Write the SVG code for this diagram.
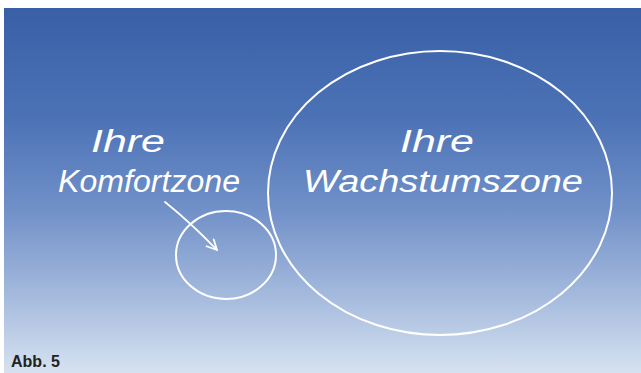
<svg xmlns="http://www.w3.org/2000/svg" width="641" height="373" viewBox="0 0 641 373">
<defs>
<linearGradient id="sky" x1="0" y1="8" x2="0" y2="373" gradientUnits="userSpaceOnUse">
<stop offset="0" stop-color="#3960a7"/>
<stop offset="0.3" stop-color="#4c72b6"/>
<stop offset="0.55" stop-color="#7090c8"/>
<stop offset="0.8" stop-color="#a7bcde"/>
<stop offset="1" stop-color="#d6e2f0"/>
</linearGradient>
<marker id="head" viewBox="0 0 12 12" refX="11" refY="6" markerWidth="12" markerHeight="12" markerUnits="userSpaceOnUse" orient="auto">
<path d="M1,1 L11,6 L1,11" fill="none" stroke="#ffffff" stroke-width="1.8" stroke-linecap="round" stroke-linejoin="round"/>
</marker>
</defs>
<style>
.zone{fill:none;stroke:#ffffff;stroke-width:2}
.hand{font-family:"Liberation Sans","DejaVu Sans",sans-serif;font-style:italic;fill:#ffffff;font-size:31px}
.cap{font-family:"Liberation Sans Narrow","Liberation Sans",sans-serif;font-weight:bold;fill:#222222;font-size:17px}
</style>
<rect x="0" y="0" width="641" height="373" fill="#ffffff"/>
<rect x="4" y="8" width="637" height="365" fill="url(#sky)"/>
<g id="wachstum">
<ellipse class="zone" cx="440" cy="193" rx="172" ry="142"/>
<text class="hand" x="400" y="152" textLength="74" lengthAdjust="spacingAndGlyphs">Ihre</text>
<text class="hand" x="303" y="192" textLength="280" lengthAdjust="spacingAndGlyphs">Wachstumszone</text>
</g>
<g id="komfort">
<ellipse class="zone" cx="226" cy="255" rx="50" ry="44"/>
<text class="hand" x="91" y="152" textLength="74" lengthAdjust="spacingAndGlyphs">Ihre</text>
<text class="hand" x="58" y="192" textLength="182" lengthAdjust="spacingAndGlyphs">Komfortzone</text>
</g>
<g id="connectors">
<path d="M165,202 Q190,222 217,250" fill="none" stroke="#ffffff" stroke-width="1.8" stroke-linecap="round" marker-end="url(#head)"/>
</g>
<text class="cap" x="11" y="367" textLength="49" lengthAdjust="spacingAndGlyphs">Abb. 5</text>
</svg>
